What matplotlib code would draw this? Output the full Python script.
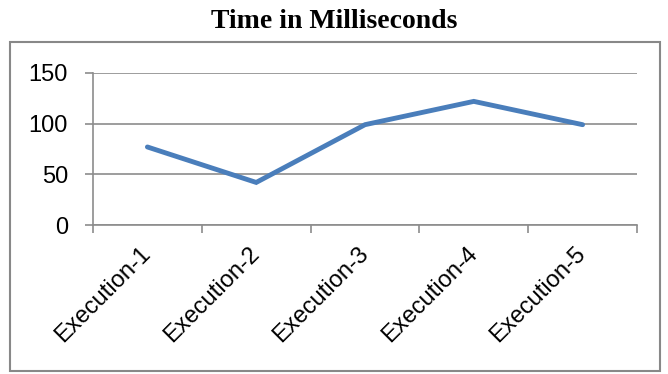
import matplotlib
matplotlib.use("Agg")
import matplotlib.pyplot as plt
from matplotlib.patches import Rectangle

runs = ["Execution-1", "Execution-2", "Execution-3", "Execution-4", "Execution-5"]
times_ms = [77, 42, 99, 122, 99]
y_ticks = [0, 50, 100, 150]

W, H = 668, 374
fig = plt.figure(figsize=(W / 100, H / 100), dpi=100)
fig.patch.set_facecolor("white")

# outer chart border
fig.patches.append(Rectangle((10 / W, 3 / H), 650 / W, 329 / H, transform=fig.transFigure,
                             fill=False, edgecolor="#888888", linewidth=1.5))

fig.text(0.5, 1 - 21 / H, "Time in Milliseconds", ha="center", va="center",
         fontsize=20, fontweight="bold", family="Liberation Serif", color="black")

ax = fig.add_axes([93 / W, 1 - 225 / H, 544 / W, 152 / H])
x = list(range(len(runs)))
ax.plot(x, times_ms, color="#4A7EBB", linewidth=3.5, solid_capstyle="round",
        solid_joinstyle="miter", zorder=3)

ax.set_xlim(-0.5, len(runs) - 0.5)
ax.set_ylim(0, 150)
ax.set_yticks(y_ticks)
ax.yaxis.grid(True, color="#8c8c8c", linewidth=1.2)
ax.set_axisbelow(True)

ax.set_xticks(x)
ax.set_xticklabels(runs, rotation=45, ha="right", va="center", rotation_mode="anchor",
                   fontsize=17, family="Liberation Sans")
ax.set_xticks([i - 0.5 for i in range(len(runs) + 1)], minor=True)
ax.tick_params(axis="x", which="major", length=0, pad=18)
ax.tick_params(axis="x", which="minor", length=6, color="#8c8c8c", width=1.2)
ax.tick_params(axis="y", length=6, color="#8c8c8c", width=1.2, labelsize=17, pad=12)
for lbl in ax.get_yticklabels():
    lbl.set_family("Liberation Sans")

for side in ("top", "right"):
    ax.spines[side].set_visible(False)
for side in ("left", "bottom"):
    ax.spines[side].set_color("#8c8c8c")
    ax.spines[side].set_linewidth(1.2)

fig.savefig("out.png", dpi=100)
